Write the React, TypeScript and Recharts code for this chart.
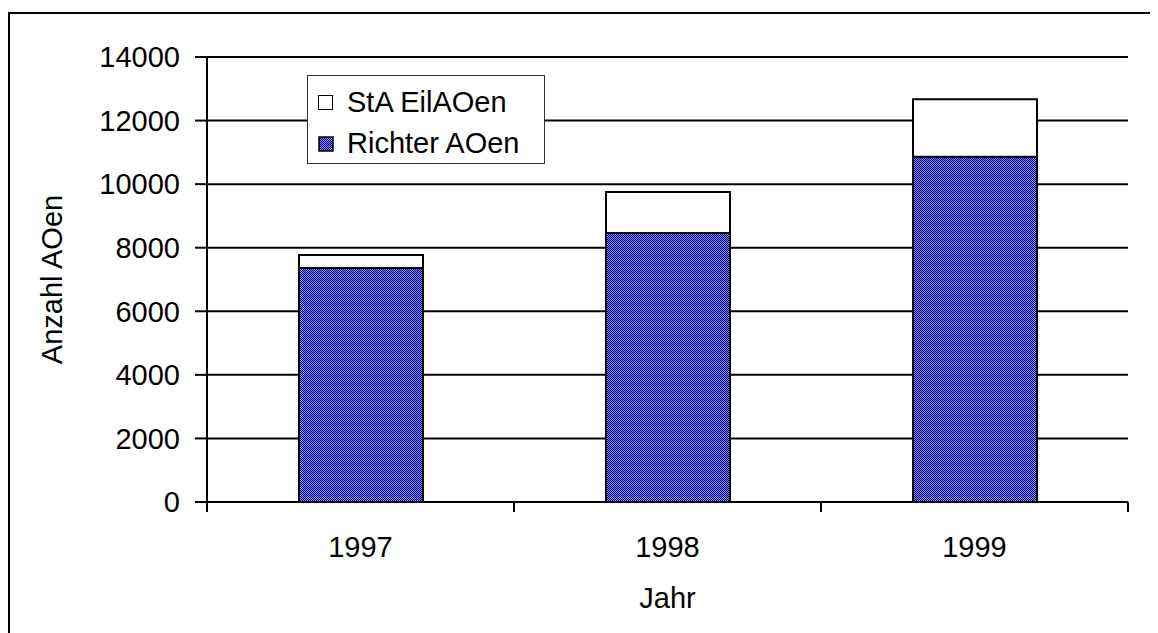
import { BarChart, Bar, XAxis, YAxis, CartesianGrid } from 'recharts'

const years = ['1997', '1998', '1999']
const richterAOen = [7360, 8460, 10860]
const staEilAOen = [410, 1290, 1810]
const yTicks = [0, 2000, 4000, 6000, 8000, 10000, 12000, 14000]

const FONT = '"Liberation Sans", Arial, sans-serif'

const chartData = years.map((y, i) => ({
  year: y,
  richter: richterAOen[i],
  sta: staEilAOen[i],
}))

function DitherDefs() {
  return (
    <defs>
      <pattern id="dither" width={2} height={2} patternUnits="userSpaceOnUse">
        <rect x={0} y={0} width={2} height={2} fill="#8a8aff" />
        <rect x={0} y={0} width={1} height={1} fill="#000070" />
        <rect x={1} y={1} width={1} height={1} fill="#000070" />
      </pattern>
    </defs>
  )
}

function LegendBox() {
  return (
    <div style={{
      position: 'absolute', left: 299, top: 67,
      border: '1px solid #333', background: '#fff', width: 238, height: 89,
      boxSizing: 'border-box', fontFamily: FONT, fontSize: 29, color: '#000',
      paddingLeft: 10, paddingTop: 6,
    }}>
      <div style={{ display: 'flex', alignItems: 'center', height: 41 }}>
        <span style={{ width: 13, height: 13, border: '1.5px solid #000', background: '#fff', marginRight: 14 }} />
        StA EilAOen
      </div>
      <div style={{ display: 'flex', alignItems: 'center', height: 41 }}>
        <svg width={16} height={16} style={{ marginRight: 13 }}>
          <DitherDefs />
          <rect x={1} y={1} width={14} height={14} fill="url(#dither)" stroke="#000" strokeWidth={1.5} />
        </svg>
        Richter AOen
      </div>
    </div>
  )
}

// category label plus Excel-style tick marks on the band edges
function YearTick({ x, y, payload, index, visibleTicksCount }: any) {
  const half = payload.offset || 0
  const last = index === visibleTicksCount - 1
  return (
    <g>
      <line x1={x - half} x2={x - half} y1={y} y2={y + 10} stroke="#000" strokeWidth={2} />
      {last && <line x1={x + half} x2={x + half} y1={y} y2={y + 10} stroke="#000" strokeWidth={2} />}
      <text x={x} y={y + 55} textAnchor="middle" fontFamily={FONT} fontSize={29} fill="#000">
        {payload.value}
      </text>
    </g>
  )
}

export default function App() {
  return (
    <div style={{ position: 'relative', width: 1150, height: 625, overflow: 'hidden', background: '#fff' }}>
      <div style={{
        position: 'absolute', left: 0, top: 4, width: 1400, height: 900,
        border: '2px solid #000',
      }} />
      <div style={{ position: 'absolute', left: 0, top: 0 }}>
        <BarChart width={1150} height={625} data={chartData}
          margin={{ top: 49, right: 30, left: 0, bottom: 0 }}>
          <DitherDefs />
          <CartesianGrid vertical={false} stroke="#000" strokeWidth={2} />
          <XAxis dataKey="year" height={131} axisLine={{ stroke: '#000', strokeWidth: 2 }}
            tickLine={false} tickSize={0} tickMargin={0} interval={0}
            tick={<YearTick />}
            label={{ value: 'Jahr', position: 'insideBottom', offset: 25, fontFamily: FONT, fontSize: 29, fill: '#000' }} />
          <YAxis width={199} domain={[0, 14000]} ticks={yTicks} interval={0}
            axisLine={{ stroke: '#000', strokeWidth: 2 }} tickLine={{ stroke: '#000', strokeWidth: 2 }}
            tickSize={12} tickMargin={15}
            tick={{ fontFamily: FONT, fontSize: 29, fill: '#000' }}
            label={{
              content: ({ viewBox }: any) => {
                const cx = viewBox.x + 44
                const cy = viewBox.y + viewBox.height / 2
                return (
                  <text x={cx} y={cy} transform={`rotate(-90 ${cx} ${cy})`} textAnchor="middle"
                    dominantBaseline="central" fontFamily={FONT} fontSize={29} fill="#000">
                    Anzahl AOen
                  </text>
                )
              },
            }} />
          <YAxis yAxisId="r" orientation="right" width={0} type="number" domain={[0, 14000]}
            tick={false} tickLine={false} axisLine={{ stroke: '#000', strokeWidth: 2 }} />
          <Bar dataKey="richter" name="Richter AOen" stackId="a" fill="url(#dither)" stroke="#000" strokeWidth={2}
            barSize={124} isAnimationActive={false} />
          <Bar dataKey="sta" name="StA EilAOen" stackId="a" fill="#fff" stroke="#000" strokeWidth={2}
            barSize={124} isAnimationActive={false} />
        </BarChart>
      </div>
      <LegendBox />
    </div>
  )
}
